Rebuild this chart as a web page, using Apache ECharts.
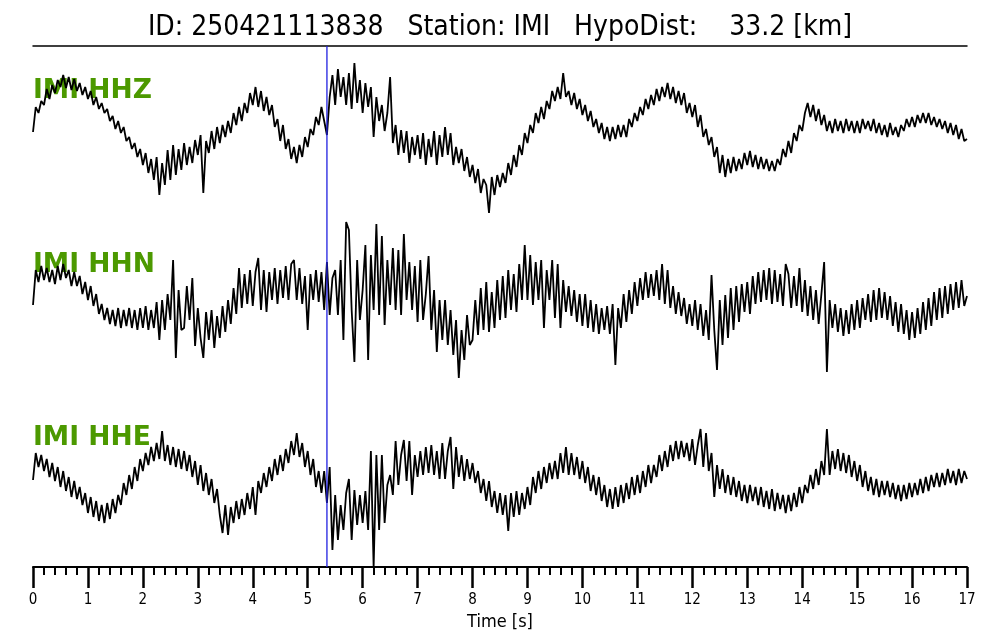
<!DOCTYPE html>
<html><head><meta charset="utf-8">
<script src="https://cdn.jsdelivr.net/npm/echarts@6/dist/echarts.min.js"></script>
<style>html,body{margin:0;padding:0;background:#fff}#c{width:1000px;height:640px}</style>
</head><body><div id="c"></div>
<script>
const TITLE = 'ID: 250421113838   Station: IMI   HypoDist:    33.2 [km]';
const CHANNELS = ['IMI HHZ', 'IMI HHN', 'IMI HHE'];
const X_NAME = 'Time [s]';
const T_MIN = 0, T_MAX = 17, T_STEP = 1;
const DT = 0.05;            // sample spacing of the traces below [s]
const PICK_TIME = [5.35];   // blue pick line [s]

const hhz = [
  3, 28, 22, 34, 30,  46, 36, 50, 42, 55,  48, 60, 47, 58, 45,  56, 44, 52, 40, 48,
  36, 44, 30, 38, 26,  32, 22, 26, 14, 19,  6, 14, 2, 8, -6,  -2, -14, -8, -22, -14,
  -30, -18, -38, -24, -45,  -22, -60, -28, -50, -15,  -45, -10, -40, -14, -35,  -8, -30, -12, -28, -5,
  -20, 0, -58, -6, -18,  4, -14, 8, -8, 10,  -2, 14, 2, 22, 10,  28, 14, 32, 22, 42,
  30, 48, 28, 44, 24,  38, 20, 30, 8, 16,  -6, 10, -14, -4, -24,  -12, -28, -10, -22, -2,
  -12, 6, 0, 18, 10,  28, 14, 0, 38, 60,  30, 66, 38, 58, 30,  62, 26, 72, 32, 55,
  22, 52, 28, 48, -2,  38, 14, 30, 4, 22,  58, -8, 10, -20, 5,  -18, 4, -28, -2, -20,
  0, -24, 2, -30, -4,  -22, 4, -30, 0, -22,  8, -20, 2, -30, -12,  -28, -14, -36, -22, -42,
  -30, -48, -34, -58, -44,  -50, -78, -42, -60, -40,  -52, -38, -48, -28, -40,  -20, -32, -10, -20, 2,
  -8, 10, 2, 22, 12,  28, 16, 34, 26, 44,  34, 48, 36, 62, 38,  44, 30, 42, 26, 36,
  20, 30, 14, 24, 8,  16, 2, 12, -4, 8,  -6, 8, -4, 10, -2,  10, -2, 16, 8, 22,
  14, 28, 20, 36, 26,  40, 30, 46, 34, 48,  38, 52, 36, 48, 32,  44, 30, 42, 22, 32,
  18, 30, 8, 20, -2,  6, -10, -2, -22, -12,  -38, -20, -42, -24, -38,  -22, -36, -24, -34, -18,
  -30, -16, -32, -20, -34,  -22, -34, -24, -36, -26,  -36, -24, -30, -14, -22,  -6, -18, 2, -6, 10,
  4, 22, 32, 18, 30,  14, 26, 10, 20, 4,  14, 2, 16, 4, 14,  2, 16, 4, 14, 2,
  14, 2, 16, 6, 14,  4, 16, 2, 12, 0,  10, -2, 12, 0, 8,  -2, 10, 4, 16, 8,
  18, 8, 20, 12, 22,  12, 22, 10, 18, 8,  16, 6, 14, 2, 12,  0, 10, -4, 6, -6,
  -4
];

const hhn = [
  -5, 30, 18, 34, 20,  32, 18, 30, 16, 34,  20, 36, 22, 30, 14,  28, 14, 24, 6, 18,
  0, 14, -6, 6, -14,  -4, -20, -8, -24, -10,  -26, -8, -28, -10, -26,  -8, -28, -10, -30, -8,
  -28, -6, -30, -10, -28,  -2, -40, 0, -30, 6,  -20, 40, -58, 10, -30,  -28, 14, -20, 22, -46,
  -8, -38, -58, -12, -40,  -10, -48, -16, -38, -6,  -32, 0, -24, 12, -14,  32, -8, 26, -4, 30,
  -6, 28, 42, -10, 30,  -12, 28, 0, 32, -4,  30, 2, 34, 0, 36,  40, 0, 32, -4, 24,
  -30, 26, 0, 30, -2,  28, -10, 38, -15, 22,  30, -15, 40, -40, 78,  70, -10, -62, 40, -20,
  10, 55, -60, 45, -10,  76, -15, 64, -25, 40,  -5, 52, -10, 50, -15,  66, 0, 38, -10, 34,
  -22, 40, -20, 6, 44,  -30, 10, -52, 0, -40,  0, -45, -10, -55, -20,  -78, -30, -60, -15, -45,
  -40, 0, -35, 12, -30,  18, -32, 8, -28, 20,  -20, 24, -18, 30, -10,  26, -12, 36, 0, 55,
  0, 45, -5, 38, 0,  40, -28, 30, 0, 40,  -18, 36, -28, 20, -12,  14, -16, 10, -22, 6,
  -26, 6, -28, 0, -32,  -4, -34, -8, -30, -6,  -34, -4, -65, -8, -28,  6, -22, 10, -14, 18,
  -6, 22, 0, 28, 2,  26, 4, 30, 0, 36,  -4, 30, -8, 14, -14,  8, -16, 2, -24, -4,
  -26, 0, -30, -4, -36,  -10, -40, 25, -30, -70,  0, -45, 5, -38, 12,  -30, 14, -22, 16, -12,
  18, -14, 24, -4, 28,  -2, 30, 0, 32, -4,  30, -2, 26, -6, 36,  26, -8, 24, -6, 32,
  -12, 20, -16, 14, -20,  10, -24, 6, 38, -72,  0, -28, -4, -32, -8,  -36, -10, -34, -4, -30,
  0, -28, 2, -20, 6,  -22, 10, -20, 12, -18,  8, -20, 4, -26, -2,  -32, -4, -34, -10, -40,
  -12, -38, -8, -34, -2,  -30, 2, -26, 8, -20,  12, -18, 14, -14, 16,  -10, 18, -8, 20, -6,
  4
];

const hhe = [
  15, 42, 28, 40, 24,  36, 18, 32, 14, 28,  8, 24, 4, 18, -2,  14, -4, 8, -10, 2,
  -18, -2, -22, -6, -26,  -10, -28, -8, -24, -4,  -18, 0, -10, 12, 0,  20, 6, 28, 14, 36,
  24, 42, 30, 48, 34,  52, 36, 64, 34, 50,  30, 48, 28, 46, 26,  44, 24, 40, 18, 34,
  10, 30, 4, 22, 0,  16, -8, 6, -20, -38,  -10, -40, -12, -28, -6,  -24, -4, -20, 2, -14,
  8, -20, 14, 2, 22,  8, 28, 14, 36, 20,  40, 24, 46, 32, 54,  40, 62, 38, 52, 28,
  44, 20, 36, 8, 24,  2, 24, -8, 28, -55,  0, -45, -10, -35, 2,  16, -45, 5, -30, 0,
  -28, 4, -35, 44, -72,  40, -35, 40, -28, 10,  20, 0, 54, 10, 40,  55, 14, 54, 0, 40,
  18, 44, 20, 48, 22,  50, 20, 44, 16, 52,  16, 44, 58, 6, 48,  18, 40, 14, 36, 16,
  32, 12, 24, 2, 16,  -6, 14, -12, 4, -18,  2, -20, 0, -36, 2,  -22, 4, -20, 2, -14,
  8, -10, 18, 2, 24,  6, 28, 12, 32, 16,  34, 16, 42, 22, 48,  20, 42, 20, 38, 16,
  34, 12, 28, 4, 20,  0, 18, -6, 10, -12,  6, -14, 8, -12, 10,  -8, 12, -4, 18, 0,
  20, 2, 24, 8, 30,  12, 30, 18, 40, 24,  44, 28, 50, 34, 54,  36, 54, 38, 52, 34,
  56, 30, 50, 66, 28,  62, 24, 42, -2, 30,  6, 26, 2, 20, 0,  18, -2, 14, -6, 10,
  -8, 10, -6, 8, -10,  8, -12, 4, -14, 6,  -16, 2, -14, 0, -18,  0, -16, 2, -12, 8,
  -8, 10, 2, 20, 6,  26, 10, 34, 20, 66,  20, 44, 26, 46, 24,  42, 22, 40, 18, 34,
  14, 30, 8, 24, 4,  18, 0, 16, -2, 14,  0, 14, -2, 12, -4,  10, -6, 10, -4, 12,
  -2, 12, 0, 16, 2,  18, 4, 20, 8, 22,  8, 22, 10, 26, 12,  24, 10, 26, 12, 24,
  16
];

const TRACES = [hhz, hhn, hhe];

const FONT = "'DejaVu Sans Condensed','DejaVu Sans',sans-serif";
const BOLD_FONT = "'DejaVu Sans','Noto Sans',sans-serif";
const GREEN = '#4c9900';

const chart = echarts.init(document.getElementById('c'), null, {renderer: 'canvas'});

const traceTops = [50, 215, 410];
const grids = [{left: 33, right: 33, top: 46, bottom: 73}];
traceTops.forEach(t => grids.push({left: 33, right: 33, top: t, height: 170}));

const xAxes = [
  {
    gridIndex: 0, type: 'value', min: T_MIN, max: T_MAX, interval: T_STEP, position: 'bottom',
    axisLine: {show: true, lineStyle: {color: '#000', width: 2}},
    axisTick: {show: true, length: 21, inside: false, lineStyle: {color: '#000', width: 2.5}},
    minorTick: {show: true, splitNumber: 5, length: 8, lineStyle: {color: '#000', width: 2}},
    axisLabel: {show: true, margin: 26, color: '#000', fontSize: 15, fontFamily: FONT},
    splitLine: {show: false}, minorSplitLine: {show: false},
    name: X_NAME, nameLocation: 'middle', nameGap: 37,
    nameTextStyle: {color: '#000', fontSize: 18, fontFamily: FONT}
  },
  {
    gridIndex: 0, type: 'value', min: T_MIN, max: T_MAX, position: 'top',
    axisLine: {show: true, lineStyle: {color: '#000', width: 1.5}},
    axisTick: {show: false}, axisLabel: {show: false}, splitLine: {show: false}
  }
];
const yAxes = [{gridIndex: 0, type: 'value', min: 0, max: 1, show: false}];
TRACES.forEach((_, i) => {
  xAxes.push({gridIndex: i + 1, type: 'value', min: T_MIN, max: T_MAX, show: false});
  yAxes.push({gridIndex: i + 1, type: 'value', min: -85, max: 85, show: false});
});

const series = [];
TRACES.forEach((arr, i) => {
  series.push({
    type: 'line', xAxisIndex: i + 2, yAxisIndex: i + 1,
    data: arr.map((v, k) => [k * DT, v]),
    showSymbol: false, symbol: 'none', sampling: null, silent: true, z: 3,
    lineStyle: {color: '#000', width: 1.8}
  });
});
PICK_TIME.forEach(p => {
  series.push({
    type: 'line', xAxisIndex: 0, yAxisIndex: 0,
    data: [[p, 0], [p, 1]], showSymbol: false, symbol: 'none', silent: true, z: 4,
    lineStyle: {color: '#1f1fe0', width: 1.3}
  });
});

const labelY = [91, 265, 438];
const graphics = [{
  type: 'text', left: 'center', top: 14, z: 10,
  style: {text: TITLE, fill: '#000', font: '28px ' + FONT}
}];
CHANNELS.forEach((c, i) => {
  graphics.push({
    type: 'text', x: 33, y: labelY[i], z: 1,
    style: {text: c, fill: GREEN, font: 'bold 26.5px ' + BOLD_FONT, textVerticalAlign: 'middle', textAlign: 'left'}
  });
});

chart.setOption({
  animation: false,
  backgroundColor: '#fff',
  grid: grids,
  xAxis: xAxes,
  yAxis: yAxes,
  series: series,
  graphic: graphics
});
</script>
</body></html>
